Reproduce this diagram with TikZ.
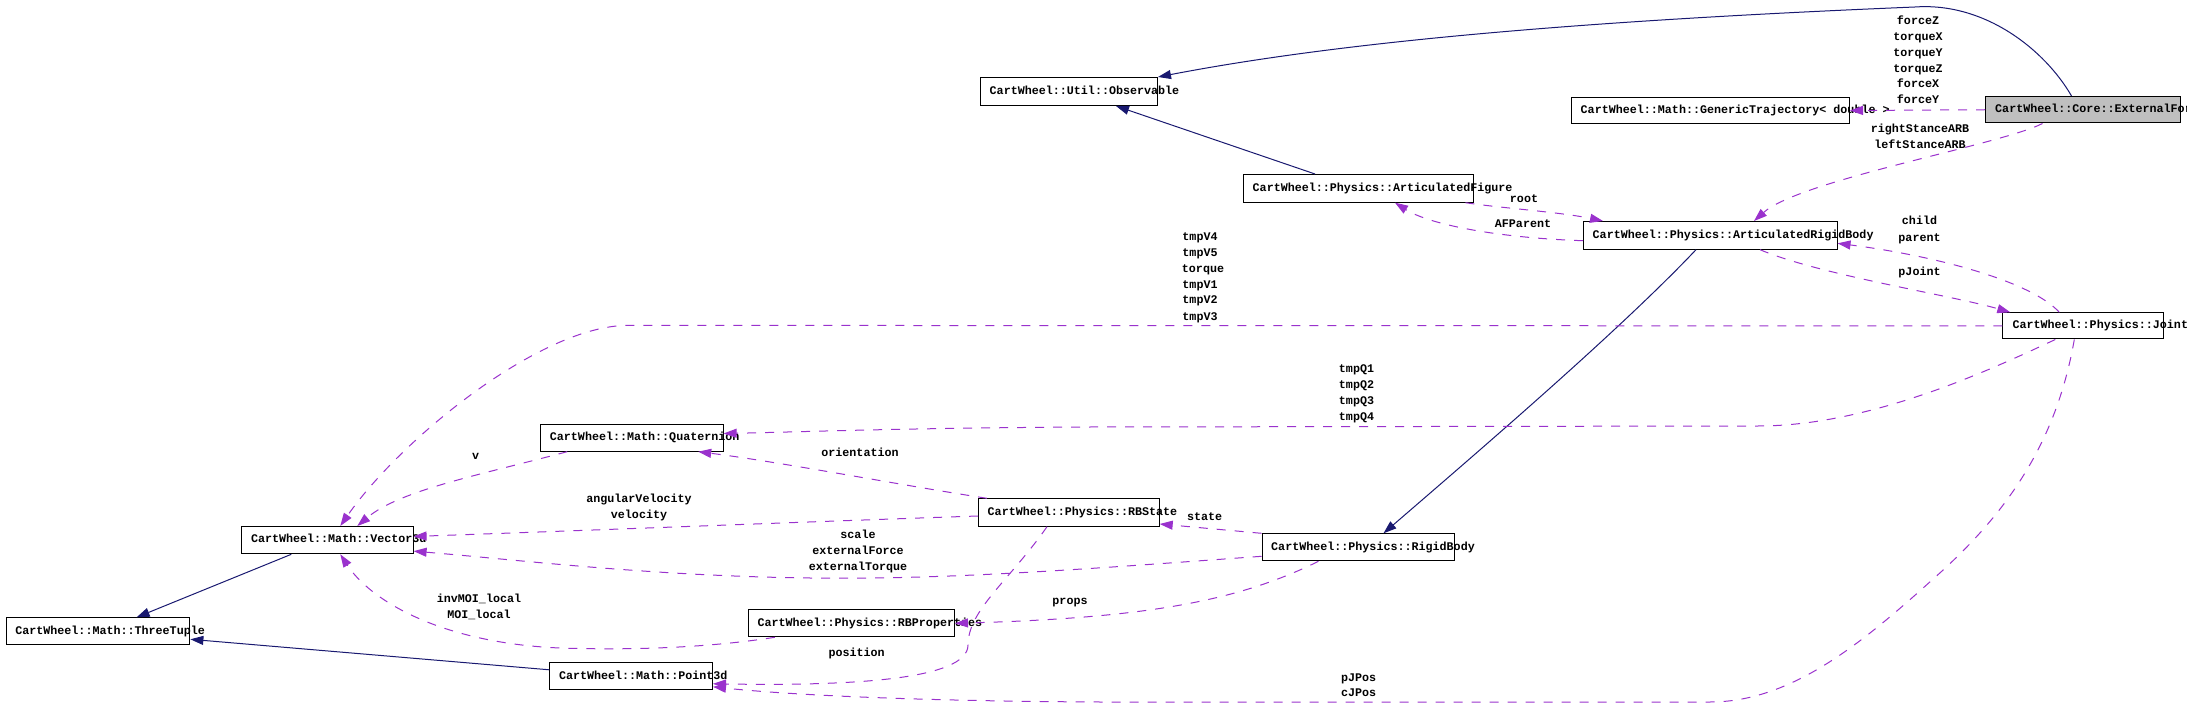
\documentclass[tikz,border=0pt]{standalone}
\usepackage{fontspec}
\setmonofont{Liberation Mono}
\usetikzlibrary{arrows.meta,calc}
\definecolor{inhcol}{HTML}{191970}
\definecolor{usecol}{HTML}{9A32CD}
\definecolor{extfill}{HTML}{BFBFBF}
\tikzset{
  cls/.style={draw=black, line width=1pt, fill=white, minimum height=27pt, inner sep=0pt, anchor=north west},
  ctext/.style={font=\ttfamily\bfseries\fontsize{11.7}{14}\selectfont, inner sep=0pt, anchor=west, text height=8pt, text depth=2.5pt},
  elab/.style={font=\ttfamily\bfseries\fontsize{11.7}{14}\selectfont, inner sep=0pt, text height=8pt, text depth=2.5pt},
  inhe/.style={draw=inhcol, line width=1pt, -{Triangle[length=13pt,width=9pt]}},
  usee/.style={draw=usecol, line width=1pt, dash pattern=on 9pt off 9pt, -{Triangle[length=13pt,width=9pt]}},
}
\begin{document}
\begin{tikzpicture}[x=1pt,y=-1pt]
\useasboundingbox (0,0) rectangle (2187,708);
% boxes
\node[cls, minimum width=177pt, minimum height=28pt] (obs) at (980,77) {};
\node[cls, minimum width=278pt, minimum height=26pt] (gen) at (1571,97) {};
\node[cls, minimum width=195pt, minimum height=26.5pt, fill=extfill] (ext) at (1985,96) {};
\node[cls, minimum width=229.5pt, minimum height=27.7pt] (af) at (1243,174) {};
\node[cls, minimum width=253.5pt, minimum height=27.7pt] (arb) at (1583,221) {};
\node[cls, minimum width=161pt, minimum height=26.2pt] (joint) at (2002.3,312.3) {};
\node[cls, minimum width=192.7pt] (rb) at (1261.5,533.3) {};
\node[cls, minimum width=180.7pt, minimum height=27.4pt] (rbs) at (978,498.3) {};
\node[cls, minimum width=182.4pt, minimum height=26.4pt] (quat) at (540.2,424.3) {};
\node[cls, minimum width=171.3pt, minimum height=27.3pt] (vec) at (241.3,526) {};
\node[cls, minimum width=183.8pt] (tt) at (5.6,617.3) {};
\node[cls, minimum width=206.2pt] (rbp) at (747.8,609.3) {};
\node[cls, minimum width=162.7pt] (p3d) at (549.3,662.3) {};
% box texts
\node[ctext] (obs-t) at ($(obs.west)+(9.5,0)$) {CartWheel::Util::Observable};
\node[ctext] (gen-t) at ($(gen.west)+(9.5,0)$) {CartWheel::Math::GenericTrajectory< double >};
\node[ctext] (ext-t) at ($(ext.west)+(10,0)$) {CartWheel::Core::ExternalForce};
\node[ctext] (af-t) at ($(af.west)+(9.5,0)$) {CartWheel::Physics::ArticulatedFigure};
\node[ctext] (arb-t) at ($(arb.west)+(9.5,0)$) {CartWheel::Physics::ArticulatedRigidBody};
\node[ctext] (joint-t) at ($(joint.west)+(10,0)$) {CartWheel::Physics::Joint};
\node[ctext] (rb-t) at ($(rb.west)+(9.5,0)$) {CartWheel::Physics::RigidBody};
\node[ctext] (rbs-t) at ($(rbs.west)+(9.5,0)$) {CartWheel::Physics::RBState};
\node[ctext] (quat-t) at ($(quat.west)+(9.5,0)$) {CartWheel::Math::Quaternion};
\node[ctext] (vec-t) at ($(vec.west)+(9.5,0)$) {CartWheel::Math::Vector3d};
\node[ctext] (tt-t) at ($(tt.west)+(9.5,0)$) {CartWheel::Math::ThreeTuple};
\node[ctext] (rbp-t) at ($(rbp.west)+(9.5,0)$) {CartWheel::Physics::RBProperties};
\node[ctext] (p3d-t) at ($(p3d.west)+(9.5,0)$) {CartWheel::Math::Point3d};
% edges
\draw[inhe] ($(ext.north west)+(86.5,0)$) .. controls (2045,50) and (1985,2) .. (1915,7) .. controls (1600,20) and (1350,40) .. (obs.north east);
\draw[usee] (ext.west) -- (gen.east);
\draw[usee] ($(ext.south west)+(57.5,0)$) .. controls (2000,145) and (1800,180) .. ($(arb.north west)+(171,0)$);
\draw[usee] ($(af.south east)+(-8,0)$) .. controls (1500,208) and (1560,212) .. ($(arb.north west)+(20,0)$);
\draw[usee] ($(arb.south west)+(0,-9)$) .. controls (1500,238) and (1430,225) .. ($(af.south west)+(152,0)$);
\draw[inhe] ($(af.north west)+(72,0)$) -- ($(obs.south west)+(136,0)$);
\draw[inhe] ($(arb.south west)+(113,0)$) .. controls (1620,330) and (1480,450) .. ($(rb.north west)+(122,0)$);
\draw[usee] ($(joint.north west)+(57,0)$) .. controls (2030,280) and (1930,255) .. ($(arb.east)+(0,8)$);
\draw[usee] ($(arb.south west)+(177,0)$) .. controls (1820,275) and (1950,295) .. ($(joint.north west)+(8,0)$);
\draw[usee] (joint.west) -- (628,325.4) .. controls (540,325.4) and (400,440) .. ($(vec.north west)+(99,0)$);
\draw[usee] ($(joint.south west)+(53,0)$) .. controls (1990,370) and (1870,426) .. (1758,426) -- (1090,427) .. controls (900,428) and (800,432) .. ($(quat.east)+(0,-4.5)$);
\draw[usee] ($(rbs.north west)+(9,0)$) .. controls (900,485) and (780,462) .. ($(quat.south west)+(158,0)$);
\draw[usee] ($(quat.south west)+(27,0)$) .. controls (480,475) and (400,490) .. ($(vec.north west)+(116,0)$);
\draw[usee] ($(rbs.west)+(0,3.5)$) .. controls (800,522) and (600,530) .. ($(vec.east)+(0,-3.7)$);
\draw[usee] ($(rb.west)+(0,9)$) .. controls (1100,568) and (950,580) .. (810,578) .. controls (650,576) and (520,560) .. ($(vec.east)+(0,11)$);
\draw[usee] (rb.north west) -- ($(rbs.east)+(0,11.5)$);
\draw[usee] ($(rb.south west)+(57,0)$) .. controls (1240,600) and (1150,618) .. (rbp.east);
\draw[usee] ($(rbp.south west)+(27,0)$) .. controls (700,649) and (620,650) .. (560,648) .. controls (440,643) and (370,600) .. ($(vec.south west)+(99,0)$);
\draw[usee] ($(rbs.south west)+(69,0)$) .. controls (1010,580) and (968,610) .. (968,645) .. controls (968,680) and (850,686) .. ($(p3d.east)+(0,7.5)$);
\draw[usee] ($(joint.south west)+(72,0)$) .. controls (2055,450) and (2000,520) .. (1932,580) .. controls (1860,645) and (1790,702) .. (1710,702) -- (1100,702) .. controls (900,701) and (780,694) .. ($(p3d.east)+(0,10.5)$);
\draw[inhe] ($(p3d.west)+(0,-6.5)$) -- ($(tt.east)+(0,8)$);
\draw[inhe] ($(vec.south west)+(50,0)$) -- ($(tt.north west)+(131,0)$);
% edge labels
\node[elab] (l-fz) at (1918,21.7) {forceZ};
\node[elab] (l-tx) at (1918,37.7) {torqueX};
\node[elab] (l-ty) at (1918,53.3) {torqueY};
\node[elab] (l-tz) at (1918,69.3) {torqueZ};
\node[elab] (l-fx) at (1918,85) {forceX};
\node[elab] (l-fy) at (1918,100.7) {forceY};
\node[elab] (l-rs) at (1920,130) {rightStanceARB};
\node[elab] (l-ls) at (1920,146) {leftStanceARB};
\node[elab] (l-root) at (1524,200) {root};
\node[elab] (l-afp) at (1523,225) {AFParent};
\node[elab] (l-child) at (1919.5,221.7) {child};
\node[elab] (l-parent) at (1919.5,238.3) {parent};
\node[elab] (l-pj) at (1919.5,272.3) {pJoint};
\node[elab] (l-v4) at (1200,237.3) {tmpV4};
\node[elab] (l-v5) at (1200,253.3) {tmpV5};
\node[elab] (l-tq) at (1203,269.3) {torque};
\node[elab] (l-v1) at (1200,285.3) {tmpV1};
\node[elab] (l-v2) at (1200,301) {tmpV2};
\node[elab] (l-v3) at (1200,317.3) {tmpV3};
\node[elab] (l-q1) at (1356.5,370) {tmpQ1};
\node[elab] (l-q2) at (1356.5,386) {tmpQ2};
\node[elab] (l-q3) at (1356.5,402) {tmpQ3};
\node[elab] (l-q4) at (1356.5,418) {tmpQ4};
\node[elab] (l-or) at (860,453.3) {orientation};
\node[elab] (l-v) at (475.6,456.7) {v};
\node[elab] (l-av) at (639,500) {angularVelocity};
\node[elab] (l-vel) at (639,516) {velocity};
\node[elab] (l-sc) at (858,536) {scale};
\node[elab] (l-ef) at (858,552) {externalForce};
\node[elab] (l-et) at (858,568) {externalTorque};
\node[elab] (l-st) at (1204.6,517.3) {state};
\node[elab] (l-pr) at (1070,601.7) {props};
\node[elab] (l-imoi) at (479,600) {invMOI\_local};
\node[elab] (l-moi) at (479,616) {MOI\_local};
\node[elab] (l-pos) at (856.6,653.3) {position};
\node[elab] (l-pj1) at (1358.6,678.3) {pJPos};
\node[elab] (l-cj) at (1358.6,694) {cJPos};
\end{tikzpicture}
\end{document}
